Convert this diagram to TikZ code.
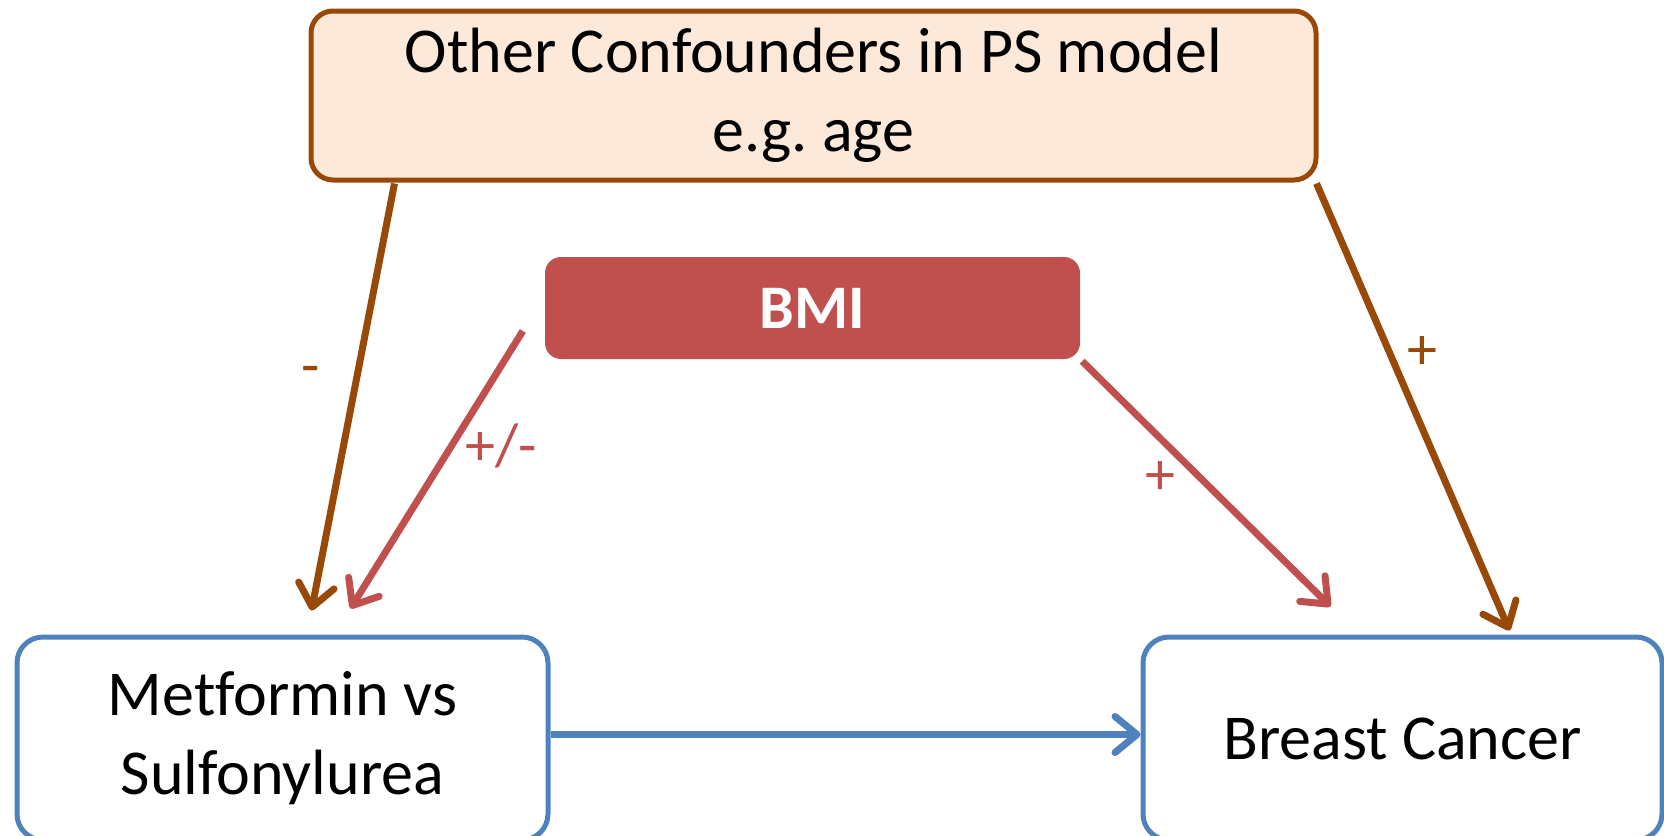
\documentclass[tikz,border=0pt]{standalone}
\usepackage{fontspec}
\setmainfont{Carlito}
\usetikzlibrary{arrows.meta}
\definecolor{brn}{HTML}{984807}
\definecolor{peach}{HTML}{FDE9D9}
\definecolor{rd}{HTML}{C0504D}
\definecolor{bl}{HTML}{4F81BD}
\tikzset{
  boxbase/.style={rectangle, rounded corners=22pt, line width=5pt, align=center, inner sep=0pt,
    font=\fontsize{64}{79}\selectfont},
  confbox/.style={boxbase, draw=brn, fill=peach},
  bmibox/.style={rectangle, rounded corners=16pt, fill=rd, text=white, inner sep=0pt,
    font=\fontsize{62}{70}\selectfont\bfseries},
  bluebox/.style={boxbase, draw=bl, fill=white, rounded corners=26pt},
  tip/.style={-{Straight Barb[length=22pt,width=36pt,line cap=round,line join=round]}, line cap=butt},
  brarrow/.style={tip, draw=brn, line width=7pt},
  rdarrow/.style={tip, draw=rd, line width=7pt},
  blarrow/.style={tip, draw=bl, line width=7pt},
  lbl/.style={inner sep=0pt, font=\fontsize{60}{70}\selectfont},
}
\begin{document}
\begin{tikzpicture}[x=1pt,y=-1pt]
\useasboundingbox (0,0) rectangle (1664,835);
\node[confbox, minimum width=1005pt, minimum height=169pt] (conf) at (813.5,95.5)
  {Other Confounders in PS model\\e.g.\ age};
\node[bmibox, minimum width=535pt, minimum height=102pt] (bmi) at (812.5,308) {BMI};
\node[bluebox, minimum width=531pt, minimum height=203pt] (met) at (282.5,738.5)
  {Met\kern0ptformin vs\\Sulfonylurea};
\node[bluebox, minimum width=519pt, minimum height=203pt] (bc) at (1402.5,738.5)
  {Breast Cancer};

\draw[brarrow] ([xshift=86pt,yshift=-1pt]conf.south west) -- ([xshift=297pt,yshift=24pt]met.north west);
\draw[brarrow] ([xshift=-2pt,yshift=-1pt]conf.south east) -- ([xshift=369pt,yshift=4pt]bc.north west);
\draw[rdarrow] ([xshift=-22pt,yshift=-23pt]bmi.west) -- ([xshift=336pt,yshift=26pt]met.north west);
\draw[rdarrow] ([xshift=2pt,yshift=-2pt]bmi.south east) -- ([xshift=190pt,yshift=28pt]bc.north west);
\draw[blarrow] ([yshift=4pt]met.east) -- ([yshift=4pt]bc.west);

\node[lbl, text=brn] (lminus) at (311,376) {-};
\node[lbl, text=brn] (lplusr) at (1422,353) {+};
\node[lbl, text=rd] (lpm) at (501,446) {+/-};
\node[lbl, text=rd] (lplusb) at (1160,478) {+};
\end{tikzpicture}
\end{document}
